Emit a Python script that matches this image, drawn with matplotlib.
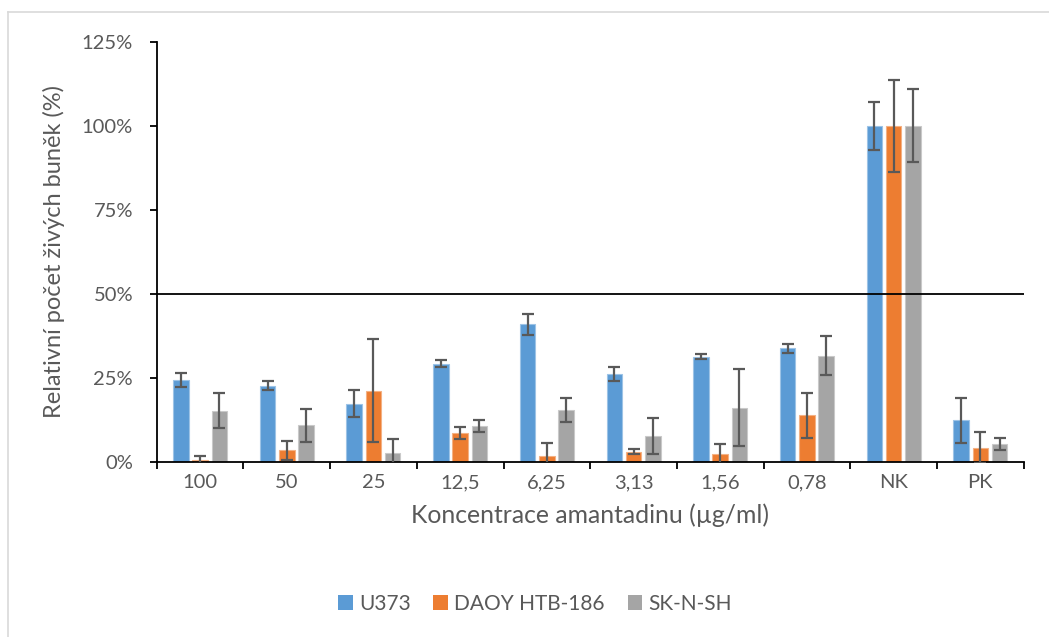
import matplotlib
matplotlib.use("Agg")
import matplotlib.pyplot as plt
import numpy as np
from matplotlib.patches import Patch
from matplotlib.lines import Line2D

categories = ["100", "50", "25", "12,5", "6,25", "3,13", "1,56", "0,78", "NK", "PK"]
series_names = ["U373", "DAOY HTB-186", "SK-N-SH"]
u373 = [24.2, 22.6, 17.2, 29.2, 40.9, 26.1, 31.3, 33.8, 100.0, 12.3]
u373_err = [2.1, 1.4, 4.0, 1.0, 3.2, 2.1, 0.8, 1.3, 7.1, 6.7]
daoy = [0.6, 3.4, 21.1, 8.5, 1.8, 3.0, 2.4, 13.8, 100.0, 4.2]
daoy_err = [1.2, 2.9, 15.3, 1.7, 3.9, 0.8, 3.0, 6.7, 13.7, 4.7]
sknsh = [15.2, 10.8, 2.6, 10.7, 15.5, 7.7, 16.1, 31.5, 100.0, 5.4]
sknsh_err = [5.1, 5.0, 4.3, 1.8, 3.6, 5.3, 11.5, 5.8, 10.9, 1.8]
yticks = [0, 25, 50, 75, 100, 125]
ytick_labels = ["0%", "25%", "50%", "75%", "100%", "125%"]

colors = ["#5B9BD5", "#ED7D31", "#A5A5A5"]
edges = ["#9DC3E6", "#F4B183", "#C9C9C9"]
txt = "#595959"
plt.rcParams['font.family'] = ['Lato', 'DejaVu Sans']

W, H = 1049, 637
fig = plt.figure(figsize=(W / 100, H / 100), dpi=100)
ax = fig.add_axes([156.7 / W, (H - 461.7) / H, (1023.7 - 156.7) / W, (461.7 - 41.7) / H])

x = np.arange(len(categories))
bw = 0.179
off = 0.222
data = [(u373, u373_err), (daoy, daoy_err), (sknsh, sknsh_err)]
for i, (vals, errs) in enumerate(data):
    pos = x + (i - 1) * off
    ax.bar(pos, vals, width=bw, color=colors[i], edgecolor=edges[i], linewidth=0.8, zorder=2)
    ax.errorbar(pos, vals, yerr=errs, fmt='none', ecolor='#595959', elinewidth=1.6,
                capsize=4.2, capthick=1.6, zorder=3)

ax.axhline(50, color='black', linewidth=1.3, zorder=4)

ax.set_xlim(-0.5, len(categories) - 0.5)
ax.set_ylim(0, 125)
ax.set_yticks(yticks)
ax.set_yticklabels(ytick_labels, fontsize=14.5, color=txt)
ax.set_xticks(x)
ax.set_xticklabels(categories, fontsize=14.5, color=txt)
ax.set_xticks(np.arange(-0.5, len(categories), 1), minor=True)
ax.tick_params(axis='x', which='major', length=0, pad=9)
ax.tick_params(axis='x', which='minor', length=5, width=1.3, color='black', direction='out')
ax.tick_params(axis='y', length=5, width=1.3, color='black', direction='out', pad=12)
for s in ['top', 'right']:
    ax.spines[s].set_visible(False)
for s in ['left', 'bottom']:
    ax.spines[s].set_linewidth(1.3)
    ax.spines[s].set_color('black')

ax.set_xlabel("Koncentrace amantadinu (µg/ml)", fontsize=17.8, color=txt, labelpad=9)
ax.set_ylabel("Relativní počet živých buněk (%)", fontsize=17, color=txt, labelpad=12)

handles = [Patch(facecolor=c, edgecolor='none') for c in colors]
fig.legend(handles, series_names, loc='center', bbox_to_anchor=(535 / W, (H - 603.5) / H),
           ncol=3, frameon=False, fontsize=15, labelcolor=txt,
           handlelength=0.7, handleheight=0.7, handletextpad=0.3, columnspacing=1.1)

# chart area border
fig.add_artist(Line2D([7.5 / W, 7.5 / W], [0, (H - 11.5) / H], color='#D9D9D9', lw=1.2, transform=fig.transFigure))
fig.add_artist(Line2D([7.5 / W, 1], [(H - 11.5) / H, (H - 11.5) / H], color='#D9D9D9', lw=1.2, transform=fig.transFigure))

fig.savefig("out.png", dpi=100)
